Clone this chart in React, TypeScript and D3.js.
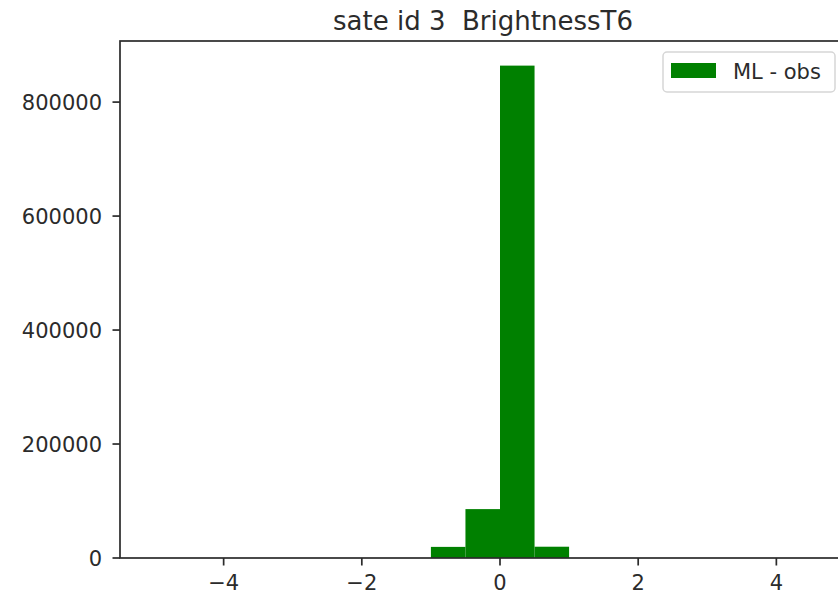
import React, { useEffect, useRef } from "react";
import * as d3 from "d3";

// histogram of ML - obs, 20 bins of width 0.5 over [-5, 5]
const BIN_EDGES = [
  -5, -4.5, -4, -3.5, -3, -2.5, -2, -1.5, -1, -0.5, 0, 0.5, 1, 1.5, 2, 2.5, 3, 3.5, 4, 4.5, 5,
];
const COUNTS = [0, 0, 0, 0, 0, 0, 0, 0, 19500, 85800, 864000, 19800, 0, 0, 0, 0, 0, 0, 0, 0];
const X_TICKS = [-4, -2, 0, 2, 4];
const Y_TICKS = [0, 200000, 400000, 600000, 800000];
const TITLE = "sate id 3  BrightnessT6";
const LEGEND_LABEL = "ML - obs";

const W = 838;
const H = 597;
const FONT = "'DejaVu Sans', sans-serif";

export default function App() {
  const svgRef = useRef<SVGSVGElement | null>(null);

  useEffect(() => {
    const svg = svgRef.current;
    if (!svg) return;
    const root = d3.select(svg);
    root.selectAll("*").remove();

    const left = 120;
    const right = 880; // axes run past the window edge
    const top = 41;
    const bottom = 558;

    const xMin = BIN_EDGES[0];
    const xMax = BIN_EDGES[BIN_EDGES.length - 1];
    const xPad = (xMax - xMin) * 0.05;
    const x = d3.scaleLinear().domain([xMin - xPad, xMax + xPad]).range([left, right]);
    const yMax = (d3.max(COUNTS) as number) * 1.05;
    const y = d3.scaleLinear().domain([0, yMax]).range([bottom, top]);

    root.append("rect").attr("width", W).attr("height", H).attr("fill", "#fff");

    // bars
    root
      .append("g")
      .selectAll("rect")
      .data(COUNTS)
      .join("rect")
      .attr("x", (_, i) => x(BIN_EDGES[i]))
      .attr("width", (_, i) => x(BIN_EDGES[i + 1]) - x(BIN_EDGES[i]))
      .attr("y", (d) => y(d))
      .attr("height", (d) => bottom - y(d))
      .attr("fill", "#008000");

    // spines
    const ink = "#2b2b2b";
    root
      .append("rect")
      .attr("x", left)
      .attr("y", top)
      .attr("width", right - left)
      .attr("height", bottom - top)
      .attr("fill", "none")
      .attr("stroke", ink)
      .attr("stroke-width", 1.7);

    // x ticks
    const fmtX = (v: number) => (v < 0 ? `\u2212${Math.abs(v)}` : `${v}`);
    X_TICKS.forEach((v) => {
      root
        .append("line")
        .attr("x1", x(v))
        .attr("x2", x(v))
        .attr("y1", bottom)
        .attr("y2", bottom + 7.5)
        .attr("stroke", ink)
        .attr("stroke-width", 1.7);
      root
        .append("text")
        .attr("x", x(v))
        .attr("y", bottom + 32)
        .attr("text-anchor", "middle")
        .attr("fill", ink)
        .style("font", `21px ${FONT}`)
        .text(fmtX(v));
    });

    // y ticks
    Y_TICKS.forEach((v) => {
      root
        .append("line")
        .attr("x1", left - 7.5)
        .attr("x2", left)
        .attr("y1", y(v))
        .attr("y2", y(v))
        .attr("stroke", ink)
        .attr("stroke-width", 1.7);
      root
        .append("text")
        .attr("x", left - 18)
        .attr("y", y(v))
        .attr("dy", "0.36em")
        .attr("text-anchor", "end")
        .attr("fill", ink)
        .style("font", `21px ${FONT}`)
        .text(`${v}`);
    });

    // title (keeps the double space)
    root
      .append("text")
      .attr("x", 483)
      .attr("y", 30)
      .attr("text-anchor", "middle")
      .attr("fill", ink)
      .style("font", `26px ${FONT}`)
      .style("white-space", "pre")
      .text(TITLE);

    // legend
    const lg = root.append("g").attr("transform", "translate(663,52)");
    lg.append("rect")
      .attr("width", 172)
      .attr("height", 40)
      .attr("rx", 4)
      .attr("fill", "#fff")
      .attr("fill-opacity", 0.8)
      .attr("stroke", "#d6d6d6")
      .attr("stroke-width", 1.5);
    lg.append("rect").attr("x", 8).attr("y", 11).attr("width", 45).attr("height", 15).attr("fill", "#008000");
    lg.append("text")
      .attr("x", 70)
      .attr("y", 19)
      .attr("dy", "0.36em")
      .attr("fill", ink)
      .style("font", `21px ${FONT}`)
      .text(LEGEND_LABEL);
  }, []);

  return (
    <svg
      ref={svgRef}
      width={W}
      height={H}
      style={{ position: "absolute", left: 0, top: 0, display: "block" }}
    />
  );
}
